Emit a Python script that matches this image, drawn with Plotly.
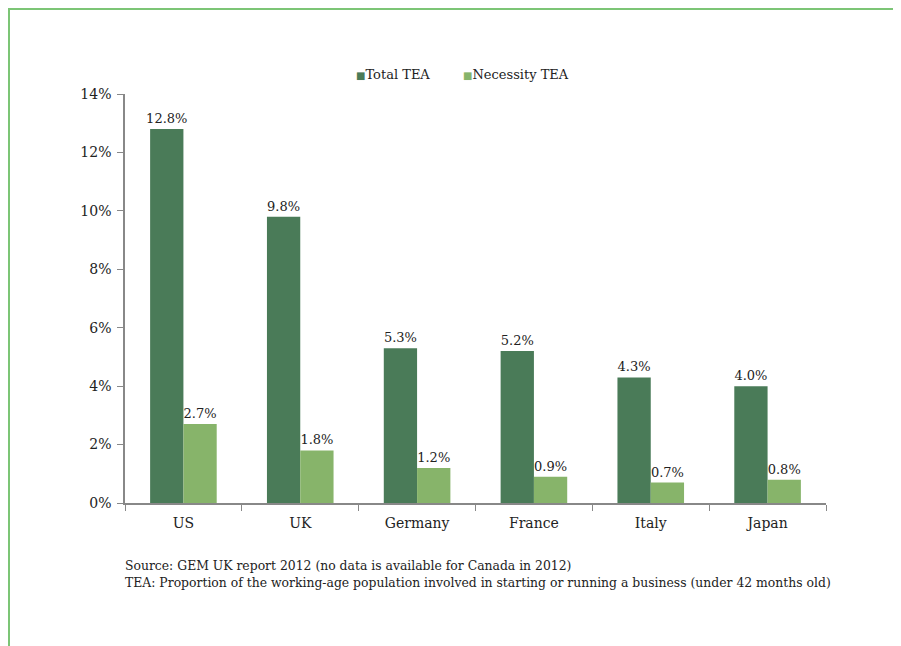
import plotly.graph_objects as go

countries = ["US", "UK", "Germany", "France", "Italy", "Japan"]
total_tea = [12.8, 9.8, 5.3, 5.2, 4.3, 4.0]
necessity_tea = [2.7, 1.8, 1.2, 0.9, 0.7, 0.8]
y_ticks = [0, 2, 4, 6, 8, 10, 12, 14]
y_tick_text = [f"{v}%" for v in y_ticks]
series_names = ["Total TEA", "Necessity TEA"]
source_lines = [
    "Source: GEM UK report 2012 (no data is available for Canada in 2012)",
    "TEA: Proportion of the working-age population involved in starting or running a business (under 42 months old)",
]

FONT = "DejaVu Serif"
DARK = "#4a7b58"
LIGHT = "#87b46a"
TXT = "#222"

fig = go.Figure()
for name, vals, col in [(series_names[0], total_tea, DARK), (series_names[1], necessity_tea, LIGHT)]:
    fig.add_trace(go.Bar(
        x=countries, y=vals, name=name,
        marker=dict(color=col, line=dict(width=0)),
        text=[f"{v:.1f}%" for v in vals], textposition="outside",
        textfont=dict(size=13, color=TXT), cliponaxis=False,
        constraintext="none", showlegend=False,
    ))

# page is offset by 8px body margin; figure coords = page coords - 8
OFF = 8
W, H = 901, 646
L, T = 125 - OFF, 94 - OFF
pw, ph = 701, 409
R = W - L - pw
B = H - T - ph

def px(x):
    return (x - OFF - L) / pw

def py(y):
    return 1 - (y - OFF - T) / ph

legend_ann = []
for name, col, xpos in [(series_names[0], DARK, 354), (series_names[1], LIGHT, 461)]:
    legend_ann.append(dict(
        text=f"<span style='color:{col};font-size:10px'>■</span>{name}",
        xref="paper", yref="paper", x=px(xpos), y=py(74),
        xanchor="left", yanchor="middle", showarrow=False, font=dict(size=13, color=TXT),
    ))

fig.update_layout(
    width=W, height=H,
    margin=dict(l=L, r=R, t=T, b=B),
    paper_bgcolor="white", plot_bgcolor="white",
    font=dict(family=FONT, size=13, color=TXT),
    barmode="group", bargap=0.43, bargroupgap=0,
    xaxis=dict(showline=True, linecolor="#888", linewidth=1.5,
               ticks="outside", ticklen=6, tickcolor="#888", tickson="boundaries",
               showgrid=False, tickfont=dict(size=14), ticklabelstandoff=6),
    yaxis=dict(range=[0, 14], tickvals=y_ticks, ticktext=y_tick_text,
               showline=True, linecolor="#888", linewidth=1.5,
               ticks="outside", ticklen=6, tickcolor="#888",
               showgrid=False, zeroline=False, tickfont=dict(size=14), ticklabelstandoff=3),
    shapes=[
        dict(type="line", xref="paper", yref="paper", x0=px(9), x1=px(9), y0=py(8), y1=py(660),
             line=dict(color="#7cc576", width=2)),
        dict(type="line", xref="paper", yref="paper", x0=px(8), x1=px(920), y0=py(9), y1=py(9),
             line=dict(color="#7cc576", width=2)),
    ],
    annotations=legend_ann + [
        dict(text=source_lines[0], xref="paper", yref="paper", x=px(123), y=py(565),
             xanchor="left", yanchor="middle", showarrow=False, font=dict(size=12.4)),
        dict(text=source_lines[1], xref="paper", yref="paper", x=px(123), y=py(582),
             xanchor="left", yanchor="middle", showarrow=False, font=dict(size=12.4)),
    ],
)

fig.write_html("out.html")
